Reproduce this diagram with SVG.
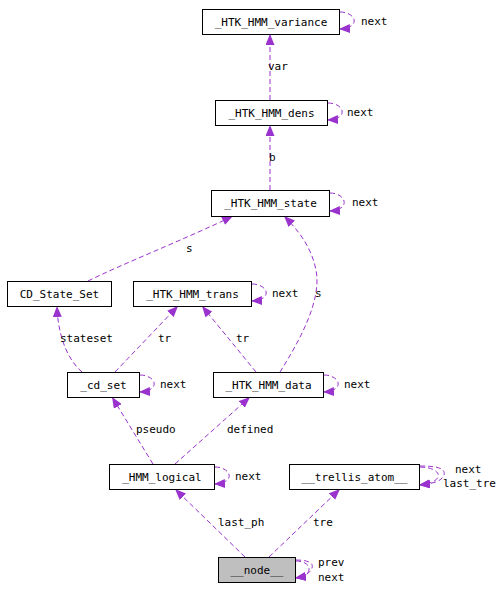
<svg xmlns="http://www.w3.org/2000/svg" width="504" height="591" viewBox="0 0 504 591">
<defs>
<marker id="ah" markerUnits="userSpaceOnUse" markerWidth="12" markerHeight="9" refX="11" refY="4.5" orient="auto">
<path d="M0,0 L11,4.5 L0,9 z" fill="#9a32cd"/>
</marker>
<style>
.box{fill:#fff;stroke:#000;stroke-width:1}
.cur{fill:#bfbfbf;stroke:#000;stroke-width:1}
.nt{font-family:"DejaVu Sans Mono","Liberation Mono",monospace;font-size:11px;text-anchor:middle;fill:#000}
.el{font-family:"DejaVu Sans Mono","Liberation Mono",monospace;font-size:11px;fill:#000}
.e{fill:none;stroke:#9a32cd;stroke-width:1;stroke-dasharray:5,3;marker-end:url(#ah)}
</style>
</defs>
<rect width="504" height="591" fill="#fff"/>
<g id="connectors">
<path class="e" d="M270,100 L270,34"/>
<path class="e" d="M270,190 L270,125"/>
<path class="e" d="M340,12 C356,12 362,28 339,29"/>
<path class="e" d="M328,103 C344,103 350,119 327,120"/>
<path class="e" d="M330,193 C346,193 352,210 329,211"/>
<path class="e" d="M88,281 C120,265 190,237 233,216"/>
<path class="e" d="M280,372 C300,340 322,300 316,270 C311,245 296,228 284,216"/>
<path class="e" d="M252,284 C268,284 274,300 251,301"/>
<path class="e" d="M115,372 L178,306"/>
<path class="e" d="M256,372 L202,306"/>
<path class="e" d="M82,372 C70,362 58,340 57,306"/>
<path class="e" d="M140,375 C156,375 162,391 139,392"/>
<path class="e" d="M324,375 C340,375 346,391 323,392"/>
<path class="e" d="M153,464 L112,397"/>
<path class="e" d="M175,464 L250,397"/>
<path class="e" d="M215,467 C231,467 237,483 214,484"/>
<path class="e" d="M420,466 C436,466 446,468 444,475 C442,482 430,484 419,485"/>
<path class="e" d="M420,467 C432,467 440,472 438,477 C436,482 428,484 419,485"/>
<path class="e" d="M245,557 L175,489"/>
<path class="e" d="M269,557 L340,489"/>
<path class="e" d="M296,560 C306,560 314,562 312,568 C310,574 302,577 295,578"/>
<path class="e" d="M296,561 C304,561 310,565 309,570 C308,575 302,577 295,578"/>
</g>
<g id="n_variance"><rect class="box" x="202.5" y="9.5" width="137" height="25"/><text class="nt" x="271" y="25.5">_HTK_HMM_variance</text></g>
<g id="n_dens"><rect class="box" x="215.5" y="100.5" width="112" height="25"/><text class="nt" x="271.5" y="116.5">_HTK_HMM_dens</text></g>
<g id="n_state"><rect class="box" x="211.5" y="190.5" width="118" height="26"/><text class="nt" x="270.5" y="207">_HTK_HMM_state</text></g>
<g id="n_cdstateset"><rect class="box" x="7.5" y="281.5" width="104" height="25"/><text class="nt" x="59.5" y="297.5">CD_State_Set</text></g>
<g id="n_trans"><rect class="box" x="133.5" y="281.5" width="118" height="25"/><text class="nt" x="192.5" y="297.5">_HTK_HMM_trans</text></g>
<g id="n_cdset"><rect class="box" x="67.5" y="372.5" width="72" height="25"/><text class="nt" x="103.5" y="388.5">_cd_set</text></g>
<g id="n_data"><rect class="box" x="213.5" y="372.5" width="110" height="25"/><text class="nt" x="268.5" y="388.5">_HTK_HMM_data</text></g>
<g id="n_logical"><rect class="box" x="109.5" y="464.5" width="105" height="25"/><text class="nt" x="162" y="480.5">_HMM_logical</text></g>
<g id="n_trellis"><rect class="box" x="289.5" y="464.5" width="130" height="25"/><text class="nt" x="354.5" y="480.5">__trellis_atom__</text></g>
<g id="n_node"><rect class="cur" x="218.5" y="557.5" width="77" height="25"/><text class="nt" x="257" y="573.5">__node__</text></g>
<g id="labels">
<text class="el" x="268" y="70">var</text>
<text class="el" x="269" y="161">b</text>
<text class="el" x="361" y="25">next</text>
<text class="el" x="347" y="116">next</text>
<text class="el" x="352" y="206">next</text>
<text class="el" x="186" y="252">s</text>
<text class="el" x="315" y="297">s</text>
<text class="el" x="272" y="297">next</text>
<text class="el" x="60" y="342">stateset</text>
<text class="el" x="158" y="342">tr</text>
<text class="el" x="236" y="342">tr</text>
<text class="el" x="160" y="388">next</text>
<text class="el" x="344" y="388">next</text>
<text class="el" x="136" y="433">pseudo</text>
<text class="el" x="227" y="433">defined</text>
<text class="el" x="235" y="480">next</text>
<text class="el" x="455" y="473">next</text>
<text class="el" x="443" y="487">last_tre</text>
<text class="el" x="218" y="526">last_ph</text>
<text class="el" x="313" y="526">tre</text>
<text class="el" x="318" y="566">prev</text>
<text class="el" x="318" y="581">next</text>
</g>
</svg>
